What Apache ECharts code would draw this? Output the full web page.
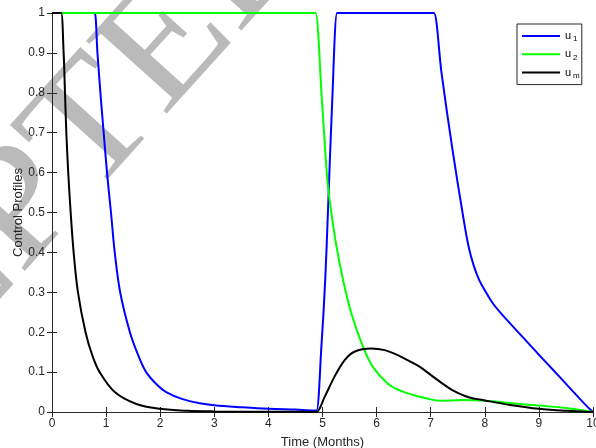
<!DOCTYPE html>
<html>
<head>
<meta charset="utf-8">
<script src="https://cdn.jsdelivr.net/npm/echarts@6/dist/echarts.min.js"></script>
<style>
  html, body { margin: 0; padding: 0; background: #ffffff; }
  #chart { width: 596px; height: 448px; }
</style>
</head>
<body>
<div id="chart"></div>
<script>
// Control u1 (treatment effort) over time, in months
const u1Time = [0, 0.76, 0.79, 0.84, 0.895, 0.955, 1.017, 1.09, 1.16, 1.26, 1.44, 1.6, 1.74, 1.95, 2.11, 2.4, 2.73, 3.0, 3.5, 4.0, 4.5, 4.86, 4.89,
  4.98, 5.05, 5.10, 5.18, 5.27, 5.30, 7.03, 7.06, 7.2, 7.4, 7.6, 7.7, 7.8, 7.9, 8.0, 8.15, 8.40, 8.72, 8.97, 9.26, 9.54, 9.89, 10];
const u1Vals = [1, 1, 1, 0.9, 0.8, 0.7, 0.6, 0.5, 0.4, 0.3, 0.2, 0.14, 0.1, 0.067, 0.05, 0.033, 0.022, 0.017, 0.012, 0.008, 0.006, 0.004, 0.004,
  0.165, 0.33, 0.5, 0.78, 1, 1, 1, 1, 0.85, 0.66, 0.49, 0.415, 0.365, 0.33, 0.305, 0.272, 0.232, 0.185, 0.148, 0.106, 0.065, 0.014, 0];

// Control u2
const u2Time = [0, 4.84, 4.87, 4.99, 5.09, 5.165, 5.26, 5.38, 5.534, 5.75, 5.93, 6.21, 6.45, 6.70, 6.95, 7.17, 7.6, 8.0, 8.5, 9.0, 9.5, 10];
const u2Vals = [1, 1, 1, 0.78, 0.582, 0.498, 0.414, 0.331, 0.247, 0.163, 0.113, 0.071, 0.053, 0.042, 0.033, 0.028, 0.03, 0.028, 0.022, 0.016, 0.01, 0];

// Control u_m
const umTime = [0, 0.14, 0.17, 0.215, 0.24, 0.265, 0.30, 0.345, 0.40, 0.48, 0.62, 0.75, 0.88, 1.16, 1.56, 2.0, 2.5, 3.0, 4.0, 4.86, 4.89,
  5.04, 5.22, 5.41, 5.59, 5.9, 6.15, 6.4, 6.6, 6.8, 7.0, 7.2, 7.4, 7.7, 8.0, 8.5, 9.0, 9.5, 10];
const umVals = [1, 1, 1, 0.9, 0.8, 0.7, 0.6, 0.5, 0.4, 0.3, 0.2, 0.14, 0.1, 0.05, 0.02, 0.008, 0.003, 0.0015, 0.0006, 0.0003, 0.0003,
  0.038, 0.088, 0.13, 0.151, 0.159, 0.155, 0.142, 0.128, 0.113, 0.093, 0.073, 0.055, 0.037, 0.029, 0.017, 0.008, 0.003, 0];

const xTicks = { min: 0, max: 10, interval: 1 };
const yTicks = { min: 0, max: 1, interval: 0.1 };

const seriesNames = ['u1', 'u2', 'um'];
const subscripts = { u1: '1', u2: '2', um: 'm' };

function pairs(xs, ys) {
  return xs.map((x, i) => [x, ys[i]]);
}

const axisColor = '#262626';
const labelFont = 'Liberation Sans, Arial, Helvetica, sans-serif';

const chart = echarts.init(document.getElementById('chart'), null, { renderer: 'canvas' });

function lineSeries(name, data, color) {
  return {
    name: name,
    type: 'line',
    data: data,
    xAxisIndex: 0,
    yAxisIndex: 0,
    showSymbol: false,
    symbol: 'none',
    smooth: 0.35,
    lineStyle: { color: color, width: 2 },
    itemStyle: { color: color },
    animation: false
  };
}

const mirrorX = {
  type: 'value', position: 'top', ...xTicks,
  axisLine: { show: true, lineStyle: { color: axisColor, width: 1 } },
  axisTick: { show: true, inside: true, length: 5, lineStyle: { color: axisColor } },
  axisLabel: { show: false }, splitLine: { show: false }
};
const mirrorY = {
  type: 'value', position: 'right', ...yTicks,
  axisLine: { show: true, lineStyle: { color: axisColor, width: 1 } },
  axisTick: { show: true, inside: true, length: 5, lineStyle: { color: axisColor } },
  axisLabel: { show: false }, splitLine: { show: false }
};

const option = {
  backgroundColor: '#ffffff',
  animation: false,
  grid: { left: 52, right: 3, top: 13, bottom: 36, containLabel: false, outerBoundsMode: 'none' },
  graphic: [{
    type: 'text',
    z: -10,
    x: -22,
    y: 258,
    rotation: 48 * Math.PI / 180,
    scaleX: 1.1,
    silent: true,
    style: {
      text: 'ACCEPTED',
      font: '166px "Liberation Serif", "Times New Roman", serif',
      fill: '#bababa',
      textAlign: 'center',
      textVerticalAlign: 'middle'
    }
  }],
  legend: {
    data: seriesNames,
    orient: 'vertical',
    left: 517,
    top: 24,
    padding: [5, 2, 5, 5],
    itemGap: 4.3,
    itemWidth: 38,
    itemHeight: 2,
    icon: 'rect',
    backgroundColor: '#ffffff',
    borderColor: axisColor,
    borderWidth: 1,
    borderRadius: 0,
    formatter: name => '{u|u}{s|' + subscripts[name] + '}',
    textStyle: {
      rich: {
        u: { fontFamily: labelFont, fontSize: 11, color: '#000', lineHeight: 12 },
        s: { fontFamily: labelFont, fontSize: 8, color: '#000', padding: [6, 0, 0, 2], lineHeight: 12 }
      }
    }
  },
  xAxis: [{
    type: 'value', position: 'bottom', ...xTicks,
    name: 'Time (Months)',
    nameLocation: 'middle',
    nameGap: 24,
    nameMoveOverlap: false,
    nameTextStyle: { fontFamily: labelFont, fontSize: 13, color: axisColor },
    axisLine: { show: true, onZero: false, lineStyle: { color: axisColor, width: 1 } },
    axisTick: { show: true, inside: true, length: 5, lineStyle: { color: axisColor } },
    axisLabel: { fontFamily: labelFont, fontSize: 12, color: axisColor, margin: 6 },
    splitLine: { show: false }
  }, mirrorX],
  yAxis: [{
    type: 'value', position: 'left', ...yTicks,
    name: 'Control Profiles',
    nameLocation: 'middle',
    nameGap: 27,
    nameMoveOverlap: false,
    nameTextStyle: { fontFamily: labelFont, fontSize: 13, color: axisColor },
    axisLine: { show: true, onZero: false, lineStyle: { color: axisColor, width: 1 } },
    axisTick: { show: true, inside: true, length: 5, lineStyle: { color: axisColor } },
    axisLabel: {
      fontFamily: labelFont, fontSize: 12, color: axisColor, margin: 7,
      formatter: v => String(Math.round(v * 10) / 10)
    },
    splitLine: { show: false }
  }, mirrorY],
  series: [
    lineSeries('u1', pairs(u1Time, u1Vals), '#0000ff'),
    lineSeries('u2', pairs(u2Time, u2Vals), '#00ff00'),
    lineSeries('um', pairs(umTime, umVals), '#000000')
  ]
};

chart.setOption(option);
</script>
</body>
</html>
